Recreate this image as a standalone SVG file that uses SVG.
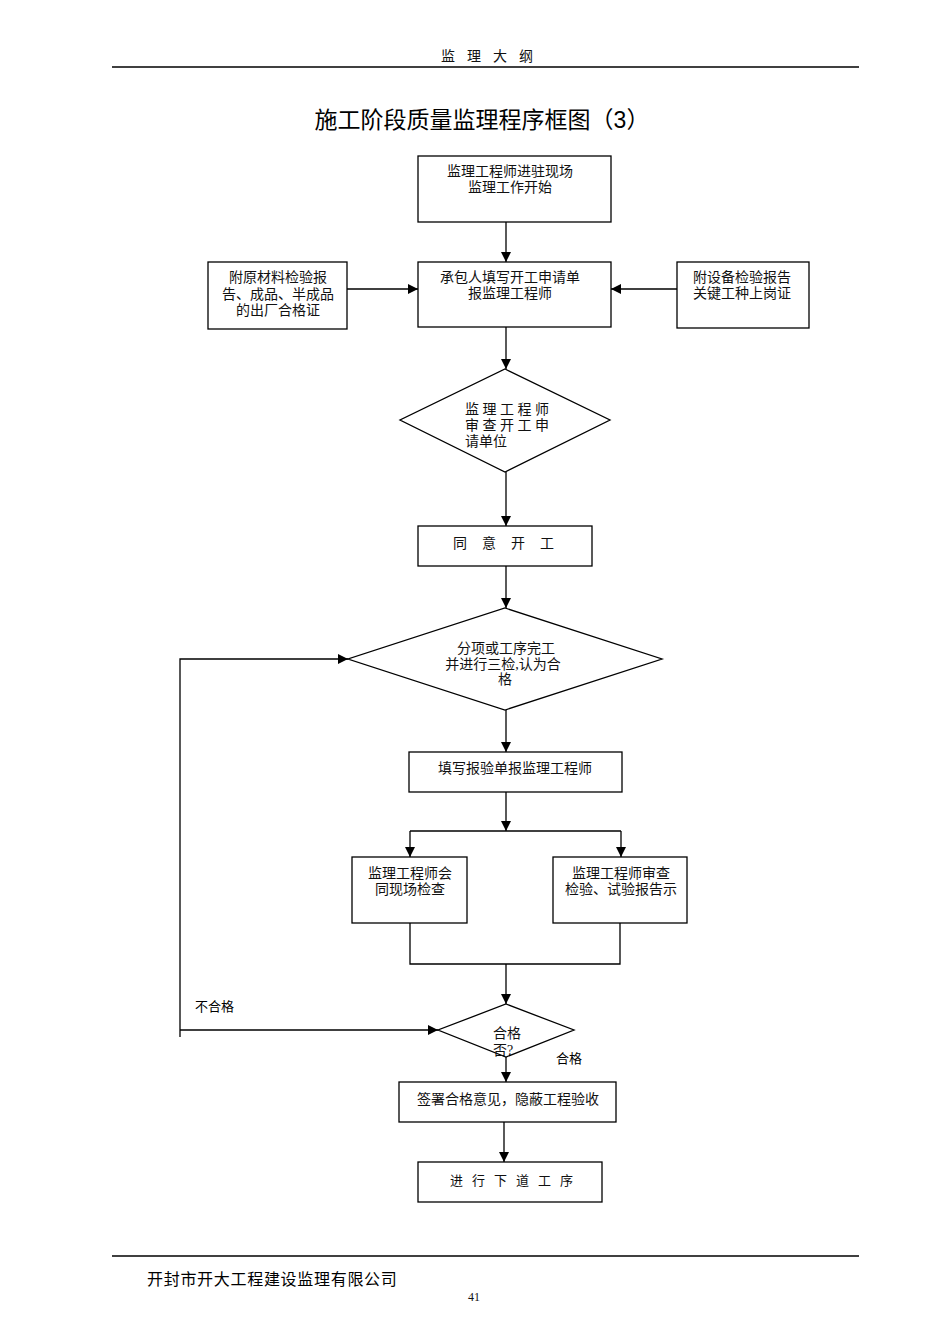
<svg xmlns="http://www.w3.org/2000/svg" width="950" height="1344" viewBox="0 0 950 1344">
<style>
.bx{fill:#fff;stroke:#000;stroke-width:1.3}
.ln{fill:none;stroke:#000;stroke-width:1.3}
.t{font-family:"Liberation Serif","Noto Sans CJK SC",serif;font-size:14px;fill:#111}
.c{text-anchor:middle}
.lb{font-family:"Liberation Sans","Noto Sans CJK SC",sans-serif;font-size:13px;fill:#000}
</style>
<defs>
<marker id="ar" viewBox="0 0 10 10" refX="10" refY="5" markerWidth="10" markerHeight="10" markerUnits="userSpaceOnUse" orient="auto">
<path d="M0,0 L10,5 L0,10 Z" fill="#000"/>
</marker>
</defs>
<rect width="950" height="1344" fill="#fff"/>
<g id="header">
<text x="441" y="61" class="t" style="font-size:14px;letter-spacing:12px">监理大纲</text>
<line x1="112" y1="67" x2="859" y2="67" stroke="#000" stroke-width="1.3"/>
<text x="482" y="128" class="c" style="font-family:'Liberation Sans','Noto Sans CJK SC',sans-serif;font-size:23px;fill:#000">施工阶段质量监理程序框图（3）</text>
</g>
<g id="connectors">
<line x1="506" y1="222" x2="506" y2="262" class="ln" marker-end="url(#ar)"/>
<line x1="347" y1="289" x2="418" y2="289" class="ln" marker-end="url(#ar)"/>
<line x1="677" y1="289" x2="611" y2="289" class="ln" marker-end="url(#ar)"/>
<line x1="506" y1="327" x2="506" y2="369" class="ln" marker-end="url(#ar)"/>
<line x1="506" y1="472" x2="506" y2="526" class="ln" marker-end="url(#ar)"/>
<line x1="506" y1="566" x2="506" y2="608" class="ln" marker-end="url(#ar)"/>
<line x1="506" y1="710" x2="506" y2="752" class="ln" marker-end="url(#ar)"/>
<line x1="506" y1="792" x2="506" y2="831" class="ln" marker-end="url(#ar)"/>
<line x1="410" y1="831" x2="621" y2="831" class="ln"/>
<line x1="410" y1="831" x2="410" y2="857" class="ln" marker-end="url(#ar)"/>
<line x1="621" y1="831" x2="621" y2="857" class="ln" marker-end="url(#ar)"/>
<polyline points="410,923 410,964 620,964 620,923" class="ln"/>
<line x1="506" y1="964" x2="506" y2="1004" class="ln" marker-end="url(#ar)"/>
<polyline points="180,1037 180,659 348,659" class="ln" marker-end="url(#ar)"/>
<line x1="180" y1="1030" x2="438" y2="1030" class="ln" marker-end="url(#ar)"/>
<line x1="506" y1="1057" x2="506" y2="1082" class="ln" marker-end="url(#ar)"/>
<line x1="504" y1="1122" x2="504" y2="1162" class="ln" marker-end="url(#ar)"/>
<text x="195" y="1011" class="lb">不合格</text>
<text x="556" y="1063" class="lb">合格</text>
</g>
<g id="n1">
<rect x="418" y="156" width="193" height="66" class="bx"/>
<text x="510" y="176" class="t c">监理工程师进驻现场</text>
<text x="510" y="192" class="t c">监理工作开始</text>
</g>
<g id="n2">
<rect x="418" y="262" width="193" height="65" class="bx"/>
<text x="510" y="282" class="t c">承包人填写开工申请单</text>
<text x="510" y="298" class="t c">报监理工程师</text>
</g>
<g id="n3">
<rect x="208" y="262" width="139" height="67" class="bx"/>
<text x="278" y="282" class="t c">附原材料检验报</text>
<text x="278" y="299" class="t c">告、成品、半成品</text>
<text x="278" y="315" class="t c">的出厂合格证</text>
</g>
<g id="n4">
<rect x="677" y="262" width="132" height="66" class="bx"/>
<text x="742" y="282" class="t c">附设备检验报告</text>
<text x="742" y="298" class="t c">关键工种上岗证</text>
</g>
<g id="n5">
<polygon points="505,369 610,420 505,472 400,420" class="bx"/>
<text x="465" y="414" class="t" style="letter-spacing:3.5px">监理工程师</text>
<text x="465" y="430" class="t" style="letter-spacing:3.5px">审查开工申</text>
<text x="465" y="446" class="t">请单位</text>
</g>
<g id="n6">
<rect x="418" y="526" width="174" height="40" class="bx"/>
<text x="453" y="548" class="t" style="letter-spacing:15px">同意开工</text>
</g>
<g id="n7">
<polygon points="505,608 662,659 505,710 348,659" class="bx"/>
<text x="506" y="653" class="t c">分项或工序完工</text>
<text x="503" y="669" class="t c">并进行三检,认为合</text>
<text x="505" y="684" class="t c">格</text>
</g>
<g id="n8">
<rect x="409" y="752" width="213" height="40" class="bx"/>
<text x="515" y="773" class="t c">填写报验单报监理工程师</text>
</g>
<g id="n9">
<rect x="352" y="857" width="115" height="66" class="bx"/>
<text x="410" y="878" class="t c">监理工程师会</text>
<text x="410" y="894" class="t c">同现场检查</text>
</g>
<g id="n10">
<rect x="553" y="857" width="134" height="66" class="bx"/>
<text x="621" y="878" class="t c">监理工程师审查</text>
<text x="621" y="894" class="t c">检验、试验报告示</text>
</g>
<g id="n11">
<polygon points="506,1004 574,1030 506,1057 438,1030" class="bx"/>
<text x="493" y="1038" class="t">合格</text>
<text x="493" y="1055" class="t">否?</text>
</g>
<g id="n12">
<rect x="399" y="1082" width="217" height="40" class="bx"/>
<text x="508" y="1104" class="t c">签署合格意见，隐蔽工程验收</text>
</g>
<g id="n13">
<rect x="418" y="1162" width="184" height="40" class="bx"/>
<text x="450" y="1185" class="t" style="font-size:13px;letter-spacing:9px">进行下道工序</text>
</g>
<g id="footer">
<line x1="112" y1="1256" x2="859" y2="1256" stroke="#000" stroke-width="1.3"/>
<text x="147" y="1285" style="font-family:'Liberation Serif','Noto Sans CJK SC',serif;font-size:16px;letter-spacing:0.7px;fill:#000">开封市开大工程建设监理有限公司</text>
<text x="468" y="1301" class="t" style="font-size:12px">41</text>
</g>
</svg>
